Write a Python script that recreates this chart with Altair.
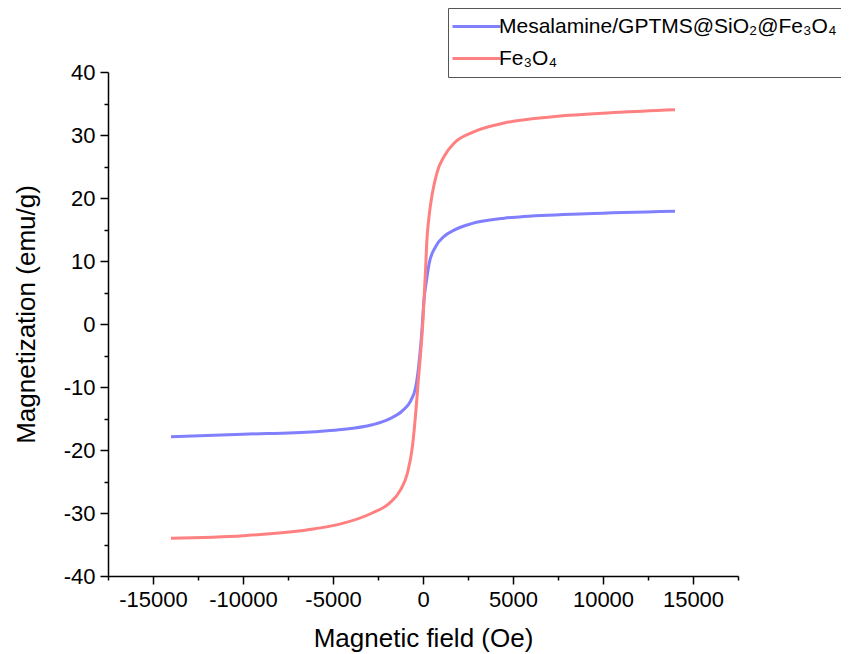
import altair as alt
import pandas as pd

# Fe3O4 (red)
field_fe = [-14000, -10000, -6000, -4675, -2820, -1890, -1240, -870, -590, -406, -260,
            -150, 0, 150, 206, 334, 517, 795, 1170, 1725, 2650, 4510, 7200, 10900, 14000]
mag_fe = [-34.0, -33.6, -32.5, -31.8, -30.0, -28.5, -26.3, -23.7, -19.5, -14.2, -8.9,
          -5.3, 0.7, 9.1, 12.8, 17.0, 20.7, 24.2, 26.6, 28.7, 30.3, 31.9, 32.9, 33.6, 34.0]

# Mesalamine/GPTMS@SiO2@Fe3O4 (blue)
field_mes = [-14000, -10000, -6000, -4675, -2820, -1890, -1150, -685, -406, -315,
             -70, 55, 200, 334, 706, 1170, 1725, 2650, 4510, 5340, 9050, 14000]
mag_mes = [-17.9, -17.5, -17.1, -16.8, -16.0, -15.1, -13.8, -12.2, -10.0, -8.4,
           -1.4, 3.8, 7.0, 9.5, 12.3, 13.9, 14.9, 15.9, 16.8, 17.0, 17.5, 17.9]

series_names = ["Mesalamine/GPTMS@SiO₂@Fe₃O₄", "Fe₃O₄"]
series_colors = ["#8080ff", "#ff8080"]

x_ticks = list(range(-17500, 17501, 2500))
y_ticks = list(range(-40, 41, 5))

df = pd.concat([
    pd.DataFrame({"H": field_mes, "M": mag_mes, "series": series_names[0], "k": 0}),
    pd.DataFrame({"H": field_fe, "M": mag_fe, "series": series_names[1], "k": 1}),
], ignore_index=True)

FONT = "Liberation Sans"

chart = alt.Chart(df).mark_line(strokeWidth=3, interpolate="monotone").encode(
    x=alt.X("H:Q",
            scale=alt.Scale(domain=[-17500, 17500], nice=False, zero=False),
            axis=alt.Axis(values=x_ticks, title="Magnetic field (Oe)",
                          labelExpr="datum.value % 5000 === 0 ? '' + datum.value : ''",
                          tickSize={"condition": {"test": "datum.value % 5000 === 0", "value": 8}, "value": 4},
                          labelPadding=5, labelFontSize=22, labelFont=FONT, labelColor="black",
                          labelOverlap=False, labelFlush=False,
                          titleFontSize=26, titleFont=FONT, titleFontWeight="normal", titleColor="black",
                          titleY=70, titleBaseline="alphabetic",
                          grid=False, domainColor="black", domainWidth=1.5,
                          tickColor="black", tickWidth=1.5)),
    y=alt.Y("M:Q",
            scale=alt.Scale(domain=[-40, 40], nice=False, zero=False),
            axis=alt.Axis(values=y_ticks, title="Magnetization (emu/g)",
                          labelExpr="datum.value % 10 === 0 ? '' + datum.value : ''",
                          tickSize={"condition": {"test": "datum.value % 10 === 0", "value": 8}, "value": 4},
                          labelPadding=5, labelFontSize=22, labelFont=FONT, labelColor="black",
                          labelOverlap=False, labelFlush=False,
                          titleFontSize=26, titleFont=FONT, titleFontWeight="normal", titleColor="black",
                          titleX=-74, titleY=242, titleBaseline="alphabetic",
                          grid=False, domainColor="black", domainWidth=1.5,
                          tickColor="black", tickWidth=1.5)),
    color=alt.Color("series:N",
                    scale=alt.Scale(domain=series_names, range=series_colors),
                    legend=alt.Legend(title=None, orient="none", legendX=340, legendY=-64,
                                      symbolType="M-4.8,0L4.8,0", symbolSize=100, symbolStrokeWidth=3,
                                      symbolOffset=10,
                                      labelFontSize=21, labelFont=FONT, labelColor="black",
                                      labelOffset=12, rowPadding=10, padding=8,
                                      strokeColor="#555555", labelLimit=500)),
    order=alt.Order("k:Q"),
).properties(
    width=630, height=504,
    padding={"left": 100, "top": 64, "right": 103, "bottom": 78},
    autosize=alt.AutoSizeParams(type="none"),
).configure_view(stroke=None)

chart.save("out.html", embed_options={"renderer": "svg", "actions": False})
